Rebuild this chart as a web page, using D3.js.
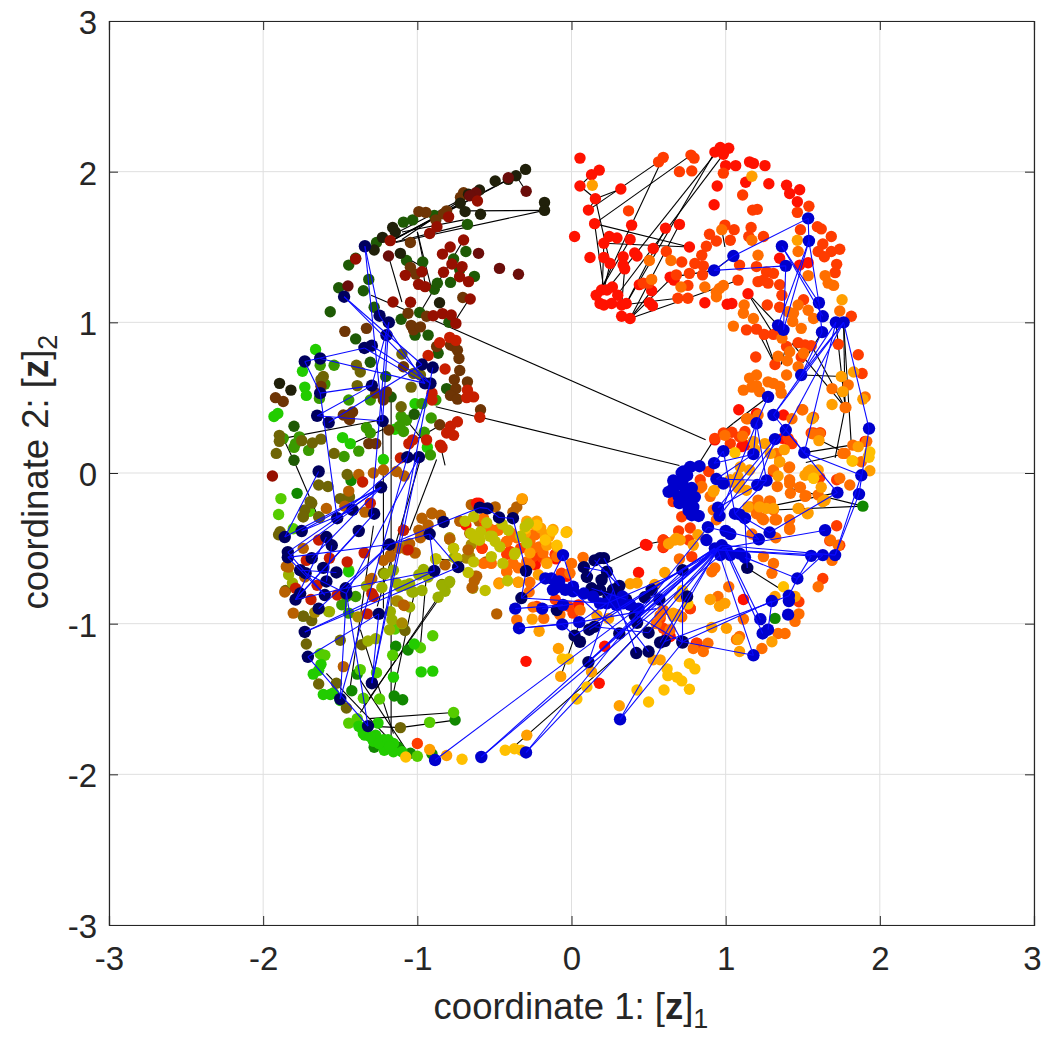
<!DOCTYPE html>
<html>
<head>
<meta charset="utf-8">
<script src="https://cdn.jsdelivr.net/npm/d3@7"></script>
<style>
  body { margin: 0; background: #fff; }
  text { font-family: "Liberation Sans", Arial, sans-serif; fill: #262626; }
</style>
</head>
<body>
<svg id="chart" width="1042" height="1042"></svg>
<script>
const tickValues = [-3, -2, -1, 0, 1, 2, 3];

// values, grouped by dot colour: [coordinate 1, coordinate 2]
const nearBlack = [[-.175,1.796],[-.175,1.743],[-.59,1.717],[-.41,1.949],[-.36,1.973],[-.495,1.938],[-1.16,1.63],[-1.28,1.48],[-1.894,.595],[-1.82,.55],[-.597,1.878],[-.668,1.85],[-.722,1.79],[-.69,1.735],[-1.11,1.458],[-1.226,1.564],[-1.143,1.6],[-.856,1.13],[-.298,2.015]];
const maroon = [[-.294,1.87],[-.344,1.319],[-.467,1.358],[-.603,1.458],[-1.187,1.44],[-1.45,1.241],[-.41,1.96],[-.62,1.86],[-.66,1.84]];
const crimson = [[-.7,1.546],[-.787,1.5],[-.837,1.453],[-.92,1.59],[-.797,1.7],[-.873,1.635],[-.61,1.805],[-1.176,1.542],[-1.078,1.312],[-.97,1.336],[-.83,1.332],[-.726,1.303],[-.776,1.387],[-.71,1.37],[-.992,1.252],[-1.158,1.135],[-1.044,1.133],[-.668,1.27],[-.657,1.155],[-.95,1.237],[-.837,1.058],[-.78,1.049],[-.75,.993],[-.897,1.044],[-1.94,-.02],[-1.4,1.42]];
const brown = [[-1.47,.94],[-1.33,.96],[-1.09,.705],[-.675,.605],[-.705,1.165],[-.99,1.735],[-.945,1.73],[-.81,1.74],[-1.045,1.53],[-1.045,1.365],[-1.01,1.32],[-1.06,1.06],[-.94,1.04],[-1.025,.95],[-1.04,.98],[-.98,.97],[-.875,.84],[-.785,.85],[-.76,.84],[-.74,.815],[-.73,.76],[-.725,.68],[-.76,.62],[-.75,.56],[-.785,.515],[-.74,.49],[-1.445,.385],[-1.42,.405],[-1.48,.385],[-1.44,.355],[-1.2,.54],[-1.22,.485],[-1.27,.53],[-1.92,.5],[-1.87,.475],[-1.625,.575],[-1.315,.195],[-1.27,.195],[-.855,.32],[-1.185,.285],[-.59,.42],[-.83,1.72],[-.88,1.68],[-.72,1.83],[-.7,1.86]];
const darkGreen = [[-1.03,1.68],[-.89,1.71],[-.675,1.65],[-.685,1.47],[-.765,1.42],[-.725,1.35],[-.63,1.305],[-.965,1.4],[-1.07,1.41],[-.89,1.22],[-.785,1.265],[-.87,1.26],[-.985,1.065],[-.795,1],[-1.105,1.02],[-.865,.795],[-1.315,1.285],[-1.51,1.23],[-1.565,1.07],[-1.4,.89],[-1.445,1.38],[-1.4,1.425],[-1.265,1.53],[-1.09,1.665],[-1.305,.735],[-1.015,.915],[-.93,.915],[-1.28,1.1],[-1.35,1.21],[-.81,.56],[-1.8,.31],[-1.8,.085],[-1.02,.39],[-1.17,.505],[-1.205,.64]];
const darkRed = [[-.855,.865],[-.79,.9],[-.75,.88],[-.93,.78],[-.82,.69],[-.675,.55],[-.635,.505],[-.68,.5],[-.595,.37],[-.905,.53],[-.905,.485],[-.785,.31],[-.74,.34],[-.81,.265],[-.765,.25],[-.85,.185],[-.84,.17],[-.94,.22],[-1.03,.22],[-1.055,.195],[-1.11,.1],[-1.345,-.53],[-1.455,-.59],[-1.57,-.565],[-1.64,-.445],[-1.69,-.84],[-1.52,-.81],[-1.295,-.8],[-1.325,-.935],[-1.305,-.2],[-1.79,-.765],[-1.355,-.06],[-1.285,-.82],[-1.06,-.51],[-1.09,-.38],[-1.72,-.58],[-1.65,-.745]];
const olive = [[-1.04,.57],[-1.39,.58],[-1.395,.715],[-1.37,.67],[-1.1,.79],[-1.61,.64],[-1.625,.62],[-1.895,.25],[-1.895,.21],[-1.915,.13],[-1.75,.215],[-1.68,.2],[-1.625,.225],[-1.54,.13],[-1.105,.44],[-1.025,.66],[-.98,.65],[-1.455,-.01],[-1.58,-.09],[-1.695,-.19],[-1.74,-.29],[-1.635,-.295],[-1.89,-.39],[-1.5,-.17],[-1.44,-.16],[-1.855,-.78],[-1.74,-.95],[-1.685,-.98],[-1.5,-1.11],[-1.72,-1.135],[-1.64,-1.4],[-1.525,-1.395],[-1.46,-1.56],[-1.11,-1.69],[-1.22,-.665],[-1.36,-1.14],[-1.08,-1.045],[-.84,-.74],[-1.9,-.41],[-1.64,-.08],[-1.445,-.15],[-1.73,-.245],[-1.685,-.2],[-1.64,-.29],[-1.74,-.29]];
const ochre = [[-1.015,-.53],[-1.07,-.48],[-1.135,-.85],[-.79,-.43],[-.66,-.555],[-.67,-.51],[-.65,-.475],[-.625,-.685],[-.64,-.765],[-.68,-.565],[-1.665,-.925],[-1.385,-.955],[-1.1,-.995]];
const midGreen = [[-1.105,.375],[-1.115,.31],[-1.09,.275],[-1.07,.35],[-.955,.27],[-.91,.365],[-.97,.46],[-.88,.485],[-1.33,.3],[-1.305,.265],[-1.445,.485],[-1.305,.485],[-1.6,.59],[-1.635,.495],[-1.54,.715],[-1.63,.715],[-1.475,.11],[-1.38,.145],[-1.705,.15],[-1.79,.195],[-1.8,.17],[-1.87,.23],[-1.765,.24],[-.915,.12],[-1.49,-.875],[-1.4,-.82],[-1.46,-.82],[-1.445,-.93],[-1.74,-.95]];
const rust = [[-1.38,-.01],[-1.285,0],[-1.22,.02],[-1.135,.01],[-1.085,-.02],[-1.59,-.235],[-.97,-.3],[-.905,-.265],[-.85,-.28],[-1.09,-.38],[-.98,-.43],[-.93,-.345],[-1.015,-.53],[-1.07,-.51],[-1.175,-.555],[-1.22,-.58],[-1.85,-.62],[-1.805,-.93],[-1.085,-.88],[-1.305,-.71],[-1.48,-1.285],[-.65,-.21],[-.495,-.225],[-.355,-.225],[-.905,-.27],[-.725,-.32],[-.79,-.44],[-.66,-.4],[-.67,-.51],[-.555,-.59],[-.615,-.685],[-.63,-.715],[-.645,-.76],[-.82,-.61],[-.485,-.935],[-.32,-.175],[-.38,-.26],[-.6,-.32],[-.99,-.38],[-1.445,-.12],[-1.09,-.875],[-1.86,-.79],[-1.835,-.625],[-1.73,-.69],[-1.74,-.5],[-1.295,-.7],[-1.175,-.545],[-1.12,-.5],[-1.05,-.47],[-1.47,-.22],[-1.34,-.26]];
const yellowGreen = [[-1.23,-.76],[-1.125,-.85],[-1.025,-.79],[-.97,-.78],[-1.115,-.755],[-1.05,-.735],[-.96,-.64],[-1.21,-.67],[-1.155,-.645],[-1.32,-1.115],[-1.27,-1.1],[-.865,-.825],[-.82,-.785],[-.795,-.73],[-.765,-.5],[-.88,-.57],[-.79,-.44],[-1.05,-.89],[-1.57,-.92],[-1.835,-.675],[-1.81,-.73],[-1.175,-.92],[-1.165,-.975],[-1.18,-1.04],[-1.1,-1],[-.76,-.56],[-.84,-.745],[-.79,-.72],[-1.135,-.73],[-1.035,-.79],[-1.08,-.745],[-1.33,-.75],[-.745,-.565],[-.93,-.69],[-.99,-.675],[-1.575,-.92]];
const yellowOlive = [[-.69,-.32],[-.635,-.29],[-.59,-.39],[-.6,-.445],[-.53,-.42],[-.465,-.49],[-.365,-.53],[-.29,-.465],[-.28,-.335],[-.765,-.5],[-.745,-.565],[-.67,-.66],[-.56,-.78],[-.415,-.715],[-.88,-.57],[-.635,-.59],[-.445,-.6],[-.41,-.38],[-.55,-.33],[-.33,-.42],[-.655,-.4],[-.595,-.445],[-.515,-.42],[-.495,-.455],[-.37,-.54],[-.3,-.355],[-.52,-.555],[-.63,-.43],[-.45,-.34]];
const lime = [[-1.885,-.17],[-1.9,-.275],[-1.805,-.37],[-1.63,-1.2],[-1.6,-1.21],[-1.37,-1.305],[-1.265,-1.325],[-1.245,-1.5],[-.9,-1.08],[-.98,-1.16],[-1.16,-1.21],[-1.145,-1.035],[-.92,-1.655],[-.765,-1.59],[-1,-1.88],[-1.39,-1.63],[-1.445,-1.66],[-1.35,-1.495],[-1.445,-.645],[-1.7,-.255]];
const brightGreen = [[-1.66,.82],[-1.745,.675],[-1.73,.57],[-1.72,.515],[-1.93,.375],[-1.905,.395],[-1.485,.235],[-1.435,.195],[-1.145,.29],[-1.22,.09],[-.935,.17],[-1.015,.46],[-1.675,-1.335],[-1.625,-1.27],[-1.61,-1.47],[-1.565,-1.47],[-1.5,-1.51],[-1.38,-1.68],[-1.35,-1.73],[-1.285,-1.78],[-1.27,-1.74],[-1.22,-1.77],[-1.215,-1.84],[-1.155,-1.795],[-1.155,-1.85],[-.975,-1.32],[-.9,-1.315],[-1.155,-1.355],[-1.02,-1.135],[-1.255,-1.66],[-1.36,-1.695],[-1.34,-1.74],[-1.305,-1.75],[-1.25,-1.795],[-1.19,-1.77],[-1.18,-1.815],[-1.1,-1.85],[-1.545,-1.46],[-1.64,-1.31],[-1.445,-.655]];
const green = [[-1.78,-.135],[-1.43,-.05],[-1.06,-1.175],[-1.14,-1.15],[-1.39,-1.335],[-1.425,-1.445],[-1.15,-1.48],[-1.095,-1.505],[-.755,-1.64],[-1.045,-1.86],[-1.125,-1.82],[-1.28,-1.82],[-.905,-1.865],[1.89,-.22],[1.32,-.965]];
const red = [[.055,2.09],[.18,2.01],[.13,1.98],[.055,1.905],[.32,1.885],[.155,1.82],[.11,1.745],[.15,1.655],[.02,1.57],[.245,1.57],[.295,1.56],[.21,1.525],[.38,1.55],[.39,1.645],[.12,1.43],[.21,1.43],[.25,1.39],[.335,1.435],[.335,1.38],[.345,1.355],[.41,1.46],[.425,1.44],[.53,1.49],[.61,1.625],[.7,1.65],[.765,1.5],[.195,1.215],[.265,1.235],[.16,1.18],[.23,1.215],[.3,1.18],[.185,1.125],[.21,1.115],[.26,1.125],[.325,1.115],[.355,1.125],[.325,1.04],[.38,1.025],[.505,1.13],[.525,1.11],[.52,1.21],[.44,1.25],[.865,1.13],[1.01,1.12],[1.04,1.125],[1.145,1.19],[.64,1.3],[.665,1.28],[.93,2.13],[.965,2.16],[1.02,2.155],[.985,2.115],[1,2.04],[1.065,2.04],[.945,1.905],[.925,1.78],[1.13,1.93],[1.155,2.065],[1.18,2.055],[1.255,2.04],[1.28,1.92],[1.395,1.91],[1.48,1.88],[1.415,1.855],[1.465,1.8],[.435,-.66],[.48,-.475],[.595,-.445],[.595,-.495],[.75,-.82],[.77,-.9],[.64,-1.085],[.81,-1.13],[.215,-1.15],[.18,-1.395],[-.295,-1.25],[-.6,-.2],[.045,-.875],[1.085,.42],[1.2,.395],[1.375,.385],[1.115,-.84],[.49,-.48],[-.1,-.57],[-.28,-.6],[-.615,-.2],[-.685,-.345],[-.58,-.5],[-.235,-.61],[-.105,-.54],[-.03,-.685],[1.105,.175],[1.415,.21],[1.37,.23],[1.31,.01],[.93,.22],[1.125,.185],[1.905,.21],[1.35,1.425],[1.48,1.38],[1.535,1.395]];
const redOrange = [[.565,2.065],[.595,2.095],[.775,2.11],[.795,2.09],[.7,2],[.78,2.005],[.985,1.99],[1.11,1.845],[1.175,1.745],[1.205,1.75],[1.465,1.73],[1.485,1.615],[1.595,1.635],[1.62,1.62],[1.685,1.57],[1.63,1.52],[1.6,1.47],[1.74,1.485],[1.685,1.47],[1.64,1.435],[1.72,1.385],[1.71,1.33],[.37,1.74],[.995,1.645],[1.055,1.615],[.895,1.585],[1.03,1.545],[1.165,1.63],[1.15,1.57],[1.245,1.57],[.94,1.54],[.875,1.505],[.845,1.445],[.8,1.39],[.855,1.375],[.85,1.315],[.765,1.325],[.755,1.245],[.68,1.315],[.715,1.4],[.615,1.47],[.465,1.26],[.5,1.26],[.69,1.16],[.755,1.16],[1.2,1.37],[1.09,1.38],[1.08,1.28],[1.265,1.335],[1.21,1.27],[1.275,1.26],[1.35,1.25],[1.365,1.18],[1.27,1.115],[1.35,1.1],[1.135,.95],[1.2,.955],[1.25,.92],[1.31,.92],[1.195,.77],[1.32,.72],[1.395,.84],[1.47,.865],[1.555,.845],[1.49,.77],[1.73,.855],[1.86,.785],[1.885,.66],[1.815,1.04],[1.505,1.15],[1.54,1.77],[.93,.23],[.985,.265],[1.04,.27],[1.125,.275],[1.03,.195],[1.09,.24],[1.43,.195],[1.405,.23],[1.57,.265],[1.615,.265],[1.72,-.35],[1.675,-.45],[1.74,-.48],[1.63,-.7],[1.475,-.855],[1.72,-.045],[1.61,-.03],[.78,-.555],[.715,-.29],[.66,-.19],[.89,.01],[.835,-.045],[.595,-.445],[.595,-.49],[.695,-.385],[.76,-.445],[.77,-.365],[.63,-.465],[.77,-.9],[.815,-1.13],[.62,-1.085],[.575,-.965],[.595,-1.03],[-.56,-.345],[-.485,-.38],[-.42,-.455],[-.4,-.52],[-.25,-.555],[-.215,-.5],[-.105,-.545],[-.58,-.5],[-.065,-.665],[-.225,-.885],[-.02,-.885],[.01,-.93],[-.105,-.84],[-1,-1.795],[-.33,-.5],[-.42,-.54],[-.19,-.56],[1.245,1.28],[1.31,1.325],[1.515,.85],[1.61,.265],[1.555,.265]];
const orange = [[.505,1.41],[.645,1.41],[.52,1.285],[.71,1.235],[.865,1.235],[.94,1.2],[.96,1.225],[.985,1.245],[.94,1.17],[1.12,1.115],[1.115,1.06],[1.18,1.025],[1.21,1.445],[1.05,.975],[1.17,1.545],[.975,1.615],[1.47,1.47],[1.535,1.31],[1.645,1.31],[1.7,1.245],[1.665,1.26],[1.74,1.075],[1.535,1.08],[1.57,1.025],[1.44,1.06],[1.47,1.115],[1.405,1.07],[1.435,1.005],[1.365,.895],[1.49,.96],[1.415,.805],[1.34,.775],[1.4,.745],[1.505,.795],[1.47,.705],[1.395,.65],[1.2,.65],[1.155,.63],[1.17,.57],[1.2,.58],[1.22,.54],[1.31,.595],[1.35,.575],[1.36,.53],[1.275,.605],[1.115,.55],[1.69,.56],[1.795,.585],[1.775,.435],[1.5,.42],[1.43,.36],[1.145,.36],[1.21,.385],[1.61,.26],[1.565,.26],[1.825,.185],[1.775,.13],[1.905,.505],[1.135,.36],[1.495,.42],[1.57,.37],[1.78,.435],[1.76,.13],[1.915,.21],[1.88,.075],[1.805,-.08],[1.74,-.035],[1.41,.035],[1.415,-.045],[1.48,-.095],[1.52,-.15],[1.42,-.135],[1.335,-.09],[1.31,.02],[1.21,-.18],[1.285,-.185],[1.245,-.225],[1.31,-.245],[1.2,-.27],[1.245,-.31],[1.32,-.31],[1.415,-.31],[1.415,-.375],[1.475,-.235],[.9,-.155],[.92,-.245],[.94,-.31],[.835,-.1],[1.245,-.555],[1.31,-.6],[1.3,-.665],[.91,-.655],[.93,-.63],[1.02,-.755],[.95,-.82],[1.09,-1.085],[1.07,-1.105],[1.235,-1.165],[1.34,-1.065],[1.385,-1.065],[1.475,-.935],[1.45,-.985],[1.6,-.755],[1.69,-.58],[1.115,-.97],[.885,-1.13],[.855,-1.185],[.79,-1.165],[.7,-.57],[.715,-.955],[-.25,-.41],[-.185,-.53],[-.095,-.555],[-.16,-.59],[-.25,-.5],[-.38,-.42],[-.42,-.655],[-.29,-.59],[-.01,-.665],[0,-.6],[.075,-.56],[-.355,-.975],[-.25,-.89],[-.18,-.965],[-.075,-.94],[.055,-.91],[.55,-1],[.64,-1.04],[.575,-.945],[.595,-.91],[-.57,-.3],[-.53,-.37],[-.475,-.38],[-.42,-.455],[-.39,-.4],[-.355,-.43],[-.27,-.455],[-.235,-.41],[-.21,-.49],[-.345,-.63],[-.42,-.655],[-.52,-.6],[-.57,-.6],[-.38,-.6],[-.27,-.61],[-.345,-.725],[-.275,-.79],[-.27,-.725],[-.47,-.73],[1.11,.245],[1.33,.13],[1.35,.075],[1.415,.04],[1.415,-.07],[1.485,-.095],[1.515,-.155],[1.6,-.145],[1.29,-.19],[1.33,-.31],[1.415,-.365],[1.235,-.3],[1.16,-.225],[.845,-.09],[.995,.25],[1.17,-.405],[1.325,-.43],[1.68,-.445],[1.73,-.48]];
const amber = [[1.17,1.97],[.135,1.91],[1.465,1.545],[1.755,1.15],[1.75,.64],[1.83,.67],[1.76,.54],[1.69,.455],[1.89,.49],[1.56,.36],[1.605,.215],[1.86,.175],[1.925,.11],[1.255,.195],[1.35,.075],[1.38,.155],[1.18,.21],[1.19,.155],[1.095,.04],[1.155,.02],[1.03,-.045],[1.08,-.1],[1.145,-.225],[1.535,.01],[1.57,-.035],[1.62,-.095],[1.645,-.18],[1.535,-.265],[1.34,-.02],[1.825,.08],[1.935,.015],[.925,-.115],[.82,-.41],[.68,-.435],[.79,-.48],[.605,-.66],[1.32,-.82],[1.45,-.82],[.9,-.84],[.96,-.885],[.995,-.865],[1.005,-1.03],[.91,-1.025],[1.3,-1.12],[1.08,-1.105],[.7,-.82],[.66,-.93],[1.09,-1.185],[-.085,-1.165],[-.07,-1.35],[-.21,-1.05],[-.255,-.97],[-.92,-1.835],[-.81,-1.875],[-.29,-1.74],[.13,-1.32],[.31,-1.545],[-.47,-.735],[-.345,-.725],[.165,-.945],[.24,-.965],[.38,-.735],[.425,-.73],[.54,-.74],[.705,-.445],[.63,-.47],[.67,-.445],[.575,-1.24],[.69,-.94],[.66,-.95],[.53,-1.24],[-.32,-.17],[-.29,-.32],[-.235,-.345],[-.16,-.48],[-.095,-.49],[-.17,-.41],[-.145,-.42],[-.2,-.365],[-.03,-.39],[-.3,-.4],[-.27,-.53],[-.215,-.675],[-.16,-.6],[-.12,-.375],[-.225,-.32],[1.29,.13],[1.09,-.07],[1.08,-.025],[1.135,-.115],[1.03,-.06],[1.22,-.225],[1.265,-.235],[1.31,-.235],[1.55,.02],[1.6,.02],[1.515,-.015],[1.63,-.19],[.92,-.125],[1.47,-.235],[1.53,-.27]];
const gold = [[-.125,-.385],[-.225,-.345],[-.17,-.445],[-.095,-.48],[-.035,-.395],[-.3,-.37],[-.06,-1.235],[-.02,-1.235],[.035,-1.5],[.1,-1.42],[.425,-1.44],[.5,-1.52],[.6,-1.44],[.765,-1.435],[.715,-1.38],[.685,-1.355],[.8,-1.3],[.765,-1.265],[.625,-1.345],[.62,-1.3],[-.43,-1.84],[-.37,-1.83],[-.325,-1.84],[-.71,-1.9],[-1.075,-1.885],[1.06,.135],[1.935,.14],[1.375,-.755],[.72,-.78],[.755,-.87],[1.82,.08],[1.93,.105],[1.57,-.035]];
const navy = [[-1.34,1.505],[-1.475,1.17],[-1.245,1.044],[-1.185,1],[-1.2,.915],[-1.343,.83],[-1.295,.845],[-1.73,.74],[-1.63,.76],[-.97,.72],[-.9,.7],[-.95,.595],[-.915,.595],[-1.295,.58],[-1.63,.53],[-1.65,.38],[-1.575,.335],[-1.225,.345],[-1.065,.105],[-.99,.105],[-1.64,.01],[-1.235,-.095],[-1.28,-.27],[-1.42,-.245],[-1.52,-.3],[-1.38,-.385],[-1.75,-.385],[-1.86,-.425],[-1.59,-.425],[-1.555,-.48],[-1.84,-.525],[-1.84,-.56],[-1.685,-.565],[-1.18,-.475],[-1.76,-.645],[-1.725,-.665],[-1.61,-.63],[-1.525,-.66],[-1.59,-.72],[-1.465,-.765],[-1.46,-.8],[-1.6,-.81],[-1.76,-.8],[-1.79,-.84],[-1.64,-.9],[-1.25,-.935],[-1.73,-1.055],[-1.71,-1.22],[-1.295,-1.395],[-1.5,-1.5],[-1.32,-1.68],[-.83,-.325],[-.92,-.405],[-.89,-.65],[-.735,-.625],[-.595,-.23],[-.545,-.235],[-.47,-.295],[-.38,-.3],[-.295,-.65],[-.325,-.83],[.08,-.625],[.185,-.565],[.21,-.565],[.15,-.58],[.1,-.69],[.23,-.655],[.195,-.71],[.13,-.765],[.185,-.775],[.27,-.775],[.31,-.75],[.24,-.82],[.29,-.83],[.355,-.84],[.475,-.825],[.52,-.775],[.57,-.84],[.75,-.82],[.72,-.645],[.41,-.945],[.425,-.995],[.5,-1.06],[.31,-1.065],[.15,-1.02],[.115,-1.04],[.02,-1.08],[.055,-1.12],[.11,-1.255],[.42,-1.195],[.5,-1.185],[.575,-1.125],[.605,-1.115],[.72,-1.125],[1.14,-.63],[.72,-1.12],[-.095,-.91]];
const blue = [[1.535,1.69],[1.54,1.54],[1.365,1.505],[1.39,1.375],[1.05,1.44],[.925,1.345],[1.605,1.13],[1.63,1.04],[1.625,.935],[1.34,.98],[1.375,.95],[1.715,1],[1.765,1],[1.49,.65],[1.275,.505],[1.31,.385],[1.2,.33],[1.39,.285],[1.32,.225],[1.93,.295],[1.51,.135],[.985,.145],[1.18,.125],[1.88,-.015],[1.865,-.14],[1.725,-.13],[1.205,-.08],[1.265,-.05],[.925,.065],[.94,-.04],[.985,-.07],[.95,-.23],[.96,-.285],[1.06,-.27],[1.09,-.275],[1.125,-.3],[.885,-.36],[1,-.385],[1.03,-.405],[1.215,-.44],[1.285,-.395],[1.645,-.38],[1.555,-.55],[1.63,-.545],[1.71,-.545],[1.465,-.7],[1.3,-.85],[1.41,-.815],[1.41,-.85],[1.405,-.94],[1.225,-.97],[1.24,-1.065],[1.275,-1.04],[1.18,-1.21],[.875,-.445],[.95,-.51],[.975,-.48],[.93,-.5],[1.005,-.51],[.965,-.545],[1.03,-.545],[1.09,-.535],[1.125,-.56],[.77,.04],[.83,.045],[.75,-.015],[.715,0],[.68,-.08],[.63,-.125],[.695,-.155],[.76,-.145],[.8,-.16],[.79,-.225],[.78,-.28],[.825,-.285],[.725,.01],[.66,-.1],[.72,-.06],[.74,-.12],[.7,-.2],[.74,-.2],[.78,-.1],[.66,-.05],[.76,-.25],[-.055,-.545],[-.17,-.7],[-.13,-.7],[-.12,-.775],[-.04,-.775],[.01,-.755],[.01,-.785],[-.08,-.72],[-.1,-.76],[.08,-.8],[.14,-.82],[.26,-.84],[.33,-.82],[-.365,-.9],[-.19,-.9],[-.34,-1.03],[-.055,-.875],[-.06,-1.005],[.05,-.99],[.23,-.865],[.29,-.875],[.38,-.875],[.435,-.9],[.335,-.865],[.185,-.865],[-.885,-1.905],[-.585,-1.885],[-.295,-1.855],[.315,-1.635]];

// line segments: [x1, y1, x2, y2]
const blackLinks = [[.055,1.905,.155,1.82],[.155,1.82,.32,1.885],[.11,1.745,.565,2.065],[.11,1.745,.155,1.82],[.155,1.82,.25,1.39],[.15,1.655,.775,2.11],[.15,1.655,.765,1.5],[.21,1.525,.765,1.5],[.18,2.01,.13,1.98],[.13,1.98,.055,1.905],[.15,1.655,.21,1.215],[.21,1.525,.2,1.235],[.2,1.235,.595,2.095],[.23,1.215,.965,2.16],[.295,1.18,.985,2.115],[.355,1.125,.93,2.13],[.7,1.65,.38,1.025],[.61,1.625,.355,1.125],[.38,1.55,.2,1.235],[.345,1.355,.325,1.115],[.38,1.025,.755,1.16],[.755,1.16,1.08,1.28],[.52,1.21,.38,1.025],[.25,1.39,.21,1.215],[.38,1.025,.645,1.29],[.325,1.115,.69,1.16],[.645,1.3,.925,1.345],[.925,1.345,1.05,1.44],[.975,1.615,.995,1.5],[1.145,1.19,1.34,.98],[1.145,1.19,1.31,.92],[1.2,.955,1.32,.72],[1.25,.92,1.32,.72],[1.49,.65,1.76,.64],[1.76,.64,1.775,.435],[1.775,.435,1.71,.1],[1.775,.435,1.765,1],[1.765,1,1.815,.185],[1.715,1,1.775,.435],[1.43,.86,1.775,.435],[1.815,.185,1.51,.135],[1.775,.135,1.605,.22],[1.555,.85,1.775,.435],[1.36,.72,1.395,.85],[1.275,.505,1.05,.33],[1.05,.33,.93,.23],[.93,.23,.8,.02],[1.625,.935,1.5,.73],[1.89,-.22,1.41,-.1],[1.89,-.22,1.2,-.25],[1.725,-.13,1.145,-.25],[1.52,.07,1.78,.13],[1.14,-.63,1.34,-.76],[.22,-.6,.48,-.475],[.48,-.475,.6,-.45],[-.07,-1.35,.05,-1],[-.355,-1.8,.27,-1.24],[.27,-1.24,.5,-1],[-.865,-.825,-1.37,-1.59],[-.835,-.8,-1.35,-1.55],[-.94,-.665,-.98,-1.15],[-1.02,-.8,-1.155,-1.46],[-1.17,.09,-1.17,-1.79],[-1.22,-.13,-1.22,-.9],[-.765,-1.59,-1.315,-1.63],[-.755,-1.64,-1.11,-1.69],[-1.11,-1.69,-1.32,-1.68],[-1.37,-1.04,-1.155,-1.73],[-1.37,-1.375,-1.07,-1.84],[-1.59,-1.33,-1.18,-1.77],[-.875,.09,-1.05,-.38],[-.98,.09,-1.26,-.885],[-1.435,-1.42,-1.285,-.35],[-1.8,.08,-1.64,-.3],[-.41,1.949,-1.176,1.54],[-.36,1.973,-1.15,1.55],[-.36,1.973,-.294,1.87],[-.175,1.743,-.69,1.74],[-.175,1.743,-1.14,1.53],[-.175,1.796,-.175,1.743],[-.675,1.65,-1.16,1.53],[-.7,1.546,-.985,1.06],[-.66,1.16,-.78,.97],[-1,1.6,-.91,1.23],[-1,1.6,-.96,1.4],[-1.187,1.44,-1.1,1.135],[-1.11,1.45,-.97,1.37],[-.97,1.4,-.95,1.25],[-1.1,1.6,-.7,1.68],[-1.3,1.18,-1.05,1.07],[-1.15,1.55,-.72,1.79],[-1.1,1.55,-.66,1.85],[-.595,1.88,-1.18,1.57],[-.88,.44,-.6,.37],[-1.87,.23,-1.245,.35],[-1.41,.2,-1.22,.29],[-1.17,.505,-1.17,.09],[-1.225,.345,-1.22,-.13],[-1.07,.35,-.95,.2],[-.85,.18,-.82,.05],[-.995,.23,-.83,.33],[-1.87,.23,-1.8,.08],[-.885,1.01,.87,.22],[-.59,.37,.7,.05],[-.88,-.57,-.55,-.6]];
const blueLinks = [[-1.34,1.505,-1.225,.345],[-1.34,1.505,-1.245,1.044],[-1.475,1.17,-.97,.72],[-1.475,1.17,-.915,.595],[-1.245,1.044,-.95,.595],[-1.185,1,-1.295,.58],[-1.185,1,-1.225,.345],[-1.73,.74,-1.343,.83],[-1.73,.74,-1.63,.53],[-1.63,.76,-.95,.595],[-1.343,.83,-.95,.595],[-1.295,.845,-.915,.595],[-1.63,.53,-1.295,.58],[-1.65,.38,-1.295,.58],[-1.575,.335,-.97,.72],[-1.65,.38,-1.225,.345],[-1.63,.53,-1.52,-.3],[-.915,.595,-1.065,.105],[-.9,.7,-1.295,-1.395],[-1.2,.915,-1.3,-.3],[-1.065,.105,-1.5,-1.5],[-.99,.105,-1.295,-1.395],[-.99,.105,-1.46,-.8],[-1.065,.105,-1.52,-.3],[-1.64,.01,-1.86,-.425],[-1.235,-.095,-1.75,-.385],[-1.235,-.095,-1.86,-.425],[-1.235,-.095,-1.52,-.3],[-1.235,-.095,-1.84,-.525],[-1.235,-.095,-1.685,-.565],[-1.28,-.27,-1.79,-.84],[-1.42,-.245,-1.75,-.385],[-1.42,-.245,-1.84,-.56],[-1.38,-.385,-1.79,-.84],[-1.18,-.475,-1.465,-.765],[-1.18,-.475,-1.84,-.56],[-.92,-.405,-1.18,-.475],[-.83,-.325,-1.18,-.475],[-.595,-.23,-.83,-.325],[-.89,-.65,-1.465,-.765],[-.89,-.65,-1.73,-1.055],[-.735,-.625,-1.73,-1.055],[-.92,-.405,-.89,-.65],[-.92,-.405,-.735,-.625],[-1.46,-.8,-1.5,-1.5],[-1.46,-.8,-1.32,-1.68],[-1.71,-1.22,-1.32,-1.68],[-1.71,-1.22,-1.25,-.935],[-1.25,-.935,-1.295,-1.395],[-1.79,-.84,-1.465,-.765],[-1.6,-.81,-1.84,-.525],[-1.64,-.9,-1.18,-.475],[-.595,-.23,-.545,-.235],[-.545,-.235,-.47,-.295],[-.47,-.295,-.38,-.3],[-.38,-.3,-.295,-.65],[-.295,-.65,-.325,-.83],[-1.84,-.56,-1.6,-.81],[-1.76,-.645,-1.525,-.66],[-1.59,-.425,-1.79,-.84],[-1.59,-.72,-1.555,-.48],[-1.725,-.665,-1.46,-.8],[-.885,-1.905,.975,-.48],[-.585,-1.885,.93,-.5],[-.585,-1.885,.965,-.545],[-.295,-1.855,.95,-.51],[-.295,-1.855,.885,-.36],[.315,-1.635,.72,-1.125],[.315,-1.635,.95,-.5],[.11,-1.255,.97,-.48],[.11,-1.255,.72,-.65],[.95,-.51,1.555,-.55],[.95,-.51,1.63,-.545],[.975,-.48,1.71,-.545],[.975,-.5,1.645,-.38],[1.125,-.56,1.465,-.7],[1.465,-.7,1.63,-.545],[1.465,-.7,1.555,-.55],[1.465,-.7,1.41,-.815],[1,-.5,1.225,-.97],[.95,-.51,1.18,-1.21],[1,-.52,1.24,-1.065],[.72,-1.12,1.3,-.85],[.72,-1.12,1.18,-1.21],[.6,-1.12,1.41,-.815],[.885,-.36,1.215,-.44],[1.865,-.14,1.93,.295],[1.71,-.545,1.865,-.14],[1.71,-.545,1.88,-.015],[1.51,.135,1.88,-.015],[1.51,.135,1.725,-.13],[1.285,-.395,1.725,-.13],[1.3,-.85,1.275,-1.04],[1.93,.295,1.765,1],[1.765,1,1.49,.65],[1.715,1,1.49,.65],[1.765,1,1.31,.385],[1.765,1,1.39,.285],[1.715,1,1.51,.135],[1.535,1.69,1.05,1.44],[1.535,1.69,1.54,1.54],[1.54,1.54,1.34,.98],[1.54,1.54,1.375,.95],[1.54,1.54,1.605,1.13],[1.365,1.505,1.605,1.13],[1.365,1.505,1.63,1.04],[1.39,1.375,1.375,.95],[1.39,1.375,.925,1.345],[1.05,1.44,.925,1.345],[1.605,1.13,1.625,.935],[1.625,.935,1.49,.65],[1.49,.65,1.31,.385],[1.275,.505,1.2,.33],[1.31,.385,1.51,.135],[1.39,.285,1.51,.135],[1.2,.33,1.18,.125],[1.2,.33,1.265,-.05],[1.32,.225,1.205,-.08],[1.32,.225,.95,-.23],[1.39,.285,.96,-.285],[.985,.145,.925,.065],[.925,.065,1.18,.125],[.985,.145,1.06,-.27],[1.18,.125,.94,-.04],[.94,-.04,1.265,-.05],[1.2,.33,.96,-.285],[1.265,-.05,1.06,-.27],[1.205,-.08,.95,-.23],[1.125,-.3,1.285,-.395],[1.125,-.3,1.14,-.63],[1.06,-.27,1.215,-.44],[-.34,-1.03,-.06,-1.005],[-.34,-1.03,.05,-.99],[-.365,-.9,-.055,-.875],[-.19,-.9,.01,-.87],[.05,-.99,.23,-.865],[-.055,-.545,-.13,-.7],[-.055,-.545,.01,-.755],[-.17,-.7,-.325,-.83],[-.325,-.83,.23,-.865],[.11,-1.255,.27,-.775],[.02,-1.08,-.06,-1.005],[.31,-1.065,.01,-.785],[.5,-1.06,.15,-1.02],[.42,-1.195,.29,-.83],[.57,-.84,.72,-1.125],[.5,-1.185,.19,-.775],[.72,-1.125,.42,-.945],[.72,-.645,.72,-1.12],[.75,-.82,.575,-1.125],[.08,-.625,.23,-.655],[.185,-.565,.1,-.69],[.21,-.565,.31,-.75],[.23,-.655,.29,-.83],[.13,-.765,.355,-.84],[.15,-.58,.31,-.75],[.05,-.99,.55,-.9],[.23,-.865,.72,-.65],[.5,-1.06,.95,-.51],[.41,-.945,.975,-.48],[.425,-.995,.93,-.5],[.31,-1.065,.95,-.51],[.115,-1.04,.93,-.5],[.015,-1.08,.975,-.48],[.52,-.775,.93,-.5],[.57,-.84,.95,-.5],[.75,-.82,.95,-.51],[.72,-.645,.95,-.51]];

const svg = d3.select('#chart');

const x = d3.scaleLinear().domain([-3, 3]).range([109, 1034]);
const y = d3.scaleLinear().domain([-3, 3]).range([925, 21]);

// grid
svg.append('g').selectAll('line').data(tickValues).enter().append('line')
  .attr('x1', d => x(d)).attr('x2', d => x(d))
  .attr('y1', y(-3)).attr('y2', y(3))
  .attr('stroke', '#dfdfdf').attr('stroke-width', 1);
svg.append('g').selectAll('line').data(tickValues).enter().append('line')
  .attr('x1', x(-3)).attr('x2', x(3))
  .attr('y1', d => y(d)).attr('y2', d => y(d))
  .attr('stroke', '#dfdfdf').attr('stroke-width', 1);

function drawLinks(links, color) {
  svg.append('g').selectAll('line').data(links).enter().append('line')
    .attr('x1', d => x(d[0])).attr('y1', d => y(d[1]))
    .attr('x2', d => x(d[2])).attr('y2', d => y(d[3]))
    .attr('stroke', color).attr('stroke-width', 1.1);
}

function drawDots(points, color, r) {
  svg.append('g').selectAll('circle').data(points).enter().append('circle')
    .attr('cx', d => x(d[0])).attr('cy', d => y(d[1]))
    .attr('r', r).attr('fill', color);
}

drawLinks(blackLinks, '#000');

const dotR = 5.7;
drawDots(green, '#118800', dotR);
drawDots(lime, '#55cc00', dotR);
drawDots(brightGreen, '#22cc00', dotR);
drawDots(midGreen, '#3a9a00', dotR);
drawDots(darkGreen, '#1e5a05', dotR);
drawDots(olive, '#6f6505', dotR);
drawDots(yellowGreen, '#9aaf00', dotR);
drawDots(brown, '#6e3505', dotR);
drawDots(ochre, '#a88a00', dotR);
drawDots(rust, '#b86000', dotR);
drawDots(nearBlack, '#20200a', dotR);
drawDots(maroon, '#6b0d0a', dotR);
drawDots(crimson, '#960f00', dotR);
drawDots(darkRed, '#c81e00', dotR);
drawDots(red, '#ff1200', dotR);
drawDots(redOrange, '#ff3c00', dotR);
drawDots(orange, '#ff6e00', dotR);
drawDots(amber, '#ff9f00', dotR);
drawDots(gold, '#ffc000', dotR);
drawDots(yellowOlive, '#bfc000', dotR);

drawDots(navy, '#00005e', 6.2);
drawDots(blue, '#0000cd', 6.2);
drawLinks(blueLinks, '#0a0aff');

// axes box and inward ticks
const xBottom = svg.append('g').attr('transform', `translate(0,${y(-3)})`)
  .call(d3.axisBottom(x).tickValues(tickValues).tickSize(-9).tickPadding(22).tickFormat(d => String(d)));
const xTop = svg.append('g').attr('transform', `translate(0,${y(3)})`)
  .call(d3.axisTop(x).tickValues(tickValues).tickSize(-9).tickFormat(''));
const yLeft = svg.append('g').attr('transform', `translate(${x(-3)},0)`)
  .call(d3.axisLeft(y).tickValues(tickValues).tickSize(-9).tickPadding(12).tickFormat(d => String(d)));
const yRight = svg.append('g').attr('transform', `translate(${x(3)},0)`)
  .call(d3.axisRight(y).tickValues(tickValues).tickSize(-9).tickFormat(''));

[xBottom, xTop, yLeft, yRight].forEach(a => {
  a.selectAll('path').attr('stroke', '#262626').attr('stroke-width', 1.2);
  a.selectAll('line').attr('stroke', '#262626').attr('stroke-width', 1);
  a.selectAll('text').style('font-size', '33px').attr('font-family', null);
});
yLeft.selectAll('text').attr('dy', '0.38em');
// last label would touch the page edge
xBottom.selectAll('text').filter(d => d === 3).attr('dx', -2);

// axis titles with bold z and subscript
function axisTitle(g, index) {
  g.append('tspan').text(`coordinate ${index}: [`);
  g.append('tspan').attr('font-weight', 'bold').text('z');
  g.append('tspan').text(']');
  g.append('tspan').attr('dy', 9).style('font-size', '27px').text(index);
}

const xTitle = svg.append('text')
  .attr('x', 571).attr('y', 1019).attr('text-anchor', 'middle')
  .style('font-size', '36.5px');
axisTitle(xTitle, 1);

const yTitle = svg.append('text')
  .attr('transform', 'translate(48,472) rotate(-90)').attr('text-anchor', 'middle')
  .style('font-size', '36.5px');
axisTitle(yTitle, 2);
</script>
</body>
</html>
